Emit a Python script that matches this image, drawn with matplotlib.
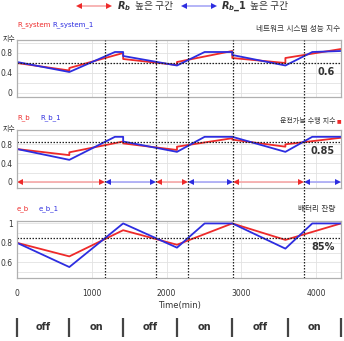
import matplotlib
matplotlib.use('Agg')
import matplotlib.pyplot as plt
import numpy as np

plt.rcParams['font.family'] = ['DejaVu Sans', 'Noto Sans CJK KR']

# ---------------- data ----------------
X_MAX = 4334
time_ticks = [0, 1000, 2000, 3000, 4000]

# panel 1 : network system performance index
t_sys_red = [0, 700, 700, 1420, 1420, 2140, 2140, 2880, 2880, 3590, 3590, 4334]
r_system = [0.60, 0.45, 0.50, 0.80, 0.68, 0.56, 0.62, 0.84, 0.70, 0.60, 0.70, 0.88]
t_sys_blue = [0, 0, 700, 1310, 1420, 1420, 2140, 2510, 2880, 2880, 3590, 3950, 4334]
r_system_1 = [0.0, 0.62, 0.42, 0.82, 0.82, 0.74, 0.55, 0.82, 0.82, 0.76, 0.55, 0.82, 0.84]

# panel 2 : operable performance index
t_b_red = [0, 700, 700, 1420, 1420, 2140, 2140, 2880, 2880, 3590, 3590, 4334]
r_b = [0.70, 0.57, 0.63, 0.86, 0.82, 0.68, 0.75, 0.93, 0.90, 0.75, 0.80, 0.94]
t_b_blue = [0, 0, 700, 1310, 1420, 1420, 2140, 2510, 2880, 3590, 3950, 4334]
r_b_1 = [0.0, 0.70, 0.47, 0.96, 0.96, 0.86, 0.64, 0.96, 0.96, 0.64, 0.96, 0.96]

# panel 3 : battery level
t_e_red = [0, 700, 1420, 2140, 2880, 3590, 4334]
e_b = [0.80, 0.66, 0.93, 0.78, 1.00, 0.83, 1.00]
t_e_blue = [0, 700, 1420, 2140, 2510, 2880, 3590, 3950, 4334]
e_b_1 = [0.80, 0.55, 1.00, 0.75, 1.00, 1.00, 0.74, 1.00, 1.00]

# regions where R_b / R_b_1 is higher (dashed boundaries)
region_bounds = [0, 1177, 1860, 2288, 2890, 3840, 4334]
region_owner = ['red', 'blue', 'red', 'blue', 'red', 'blue']

# on/off switching
switch_times = [0, 700, 1420, 2140, 2880, 3620, 4334]
switch_labels = ['off', 'on', 'off', 'on', 'off', 'on']

thresholds = [0.6, 0.85, 0.85]
threshold_labels = ['0.6', '0.85', '85%']

# ---------------- style ----------------
RED = '#ee2a2a'
BLUE = '#2d2de0'
LRED = '#f6a8a8'
LBLUE = '#a8a8f6'
COL = {'red': (RED, LRED), 'blue': (BLUE, LBLUE)}

W, H = 344, 341
fig = plt.figure(figsize=(W / 100, H / 100), dpi=100)


def fx(x):
    return x / W


def fy(y):
    return 1 - y / H


AX_L, AX_R = 17, 341


def make_ax(top, bottom, ylim, yticks, yticklabels, minor):
    ax = fig.add_axes([fx(AX_L), fy(bottom), fx(AX_R) - fx(AX_L), (bottom - top) / H])
    ax.set_xlim(0, X_MAX)
    ax.set_ylim(*ylim)
    ax.set_xticks(time_ticks)
    ax.set_yticks(yticks)
    ax.set_yticklabels(yticklabels, fontsize=5.5, color='#333333')
    ax.set_yticks(minor, minor=True)
    ax.tick_params(which='both', length=0, pad=3, labelbottom=False)
    ax.grid(True, which='both', color='#e2e2e2', lw=0.6)
    ax.set_axisbelow(True)
    for s in ax.spines.values():
        s.set_color('#b0b0b0')
        s.set_linewidth(0.9)
    return ax


ax1 = make_ax(40, 97, (-0.08, 1.06), [0, 0.4, 0.8], ['0', '0.4', '0.8'],
              [0.2, 0.6, 1.0])
ax2 = make_ax(130, 188, (-0.129, 1.105), [0, 0.4, 0.8], ['0', '0.4', '0.8'],
              [0.2, 0.6, 1.0])
ax3 = make_ax(221, 278, (0.437, 1.025), [0.6, 0.8, 1.0], ['0.6', '0.8', '1'],
              [0.5, 0.7, 0.9])

lw = 1.3
ax1.plot(t_sys_red, r_system, color=RED, lw=lw)
ax1.plot(t_sys_blue, r_system_1, color=BLUE, lw=lw)
ax2.plot(t_b_red, r_b, color=RED, lw=lw)
ax2.plot(t_b_blue, r_b_1, color=BLUE, lw=lw)
ax3.plot(t_e_red, e_b, color=RED, lw=lw)
ax3.plot(t_e_blue, e_b_1, color=BLUE, lw=lw)

for ax, thr, lab in zip([ax1, ax2, ax3], thresholds, threshold_labels):
    ax.axhline(thr, color='#222222', ls=(0, (1.2, 1.2)), lw=0.9)
    ax.annotate(lab, xy=(0.981, thr), xycoords=('axes fraction', 'data'),
                xytext=(0, -3), textcoords='offset points',
                ha='right', va='top', fontsize=7, fontweight='bold', color='#333333')

# region arrows in panel 2
gap = 45
for i, owner in enumerate(region_owner):
    c, lc = COL[owner]
    a, b = region_bounds[i] + gap, region_bounds[i + 1] - gap
    ax2.plot([a, b], [0.0, 0.0], color=lc, lw=1.2, solid_capstyle='butt')
    ax2.plot([a], [0.0], marker='<', color=c, ms=4.5, mew=0)
    ax2.plot([b], [0.0], marker='>', color=c, ms=4.5, mew=0)

# x tick labels below panel 3
ax3.tick_params(axis='x', labelbottom=True, labelsize=5.5, pad=8, colors='#333333')
ax3.set_xticklabels([str(v) for v in time_ticks])
ax3.set_xlabel('Time(min)', fontsize=6, labelpad=2, color='#333333')

# vertical dashed region boundaries across all panels
ax_ov = fig.add_axes([fx(AX_L), fy(278), fx(AX_R) - fx(AX_L), (278 - 40) / H])
ax_ov.set_xlim(0, X_MAX)
ax_ov.set_ylim(0, 1)
ax_ov.axis('off')
for t in region_bounds[1:-1]:
    ax_ov.axvline(t, color='#222222', ls=(0, (1.2, 1.2)), lw=0.9)

# on/off row
ax_sw = fig.add_axes([fx(AX_L), fy(337), fx(AX_R) - fx(AX_L), 19 / H])
ax_sw.set_xlim(0, X_MAX)
ax_sw.set_ylim(0, 1)
ax_sw.axis('off')
ax_sw.vlines(switch_times, 0, 1, color='#444444', lw=1.6, clip_on=False)
for i, lab in enumerate(switch_labels):
    ax_sw.text((switch_times[i] + switch_times[i + 1]) / 2, 0.55, lab,
               ha='center', va='center', fontsize=7, fontweight='bold', color='#333333')

# ---------------- text annotations (pixel layout) ----------------
def ftext(x, y, s, **kw):
    fig.text(fx(x), fy(y), s, **kw)


small = dict(fontsize=5, va='center')
ftext(17, 25, 'R_system', color=RED, **small)
ftext(52, 25, 'R_system_1', color=BLUE, **small)
ftext(340, 29, '네트워크 시스템 성능 지수', ha='right', color='#333333', fontsize=5.5, va='center')
ftext(3, 39, '지수', color='#333333', fontsize=5, va='center')

ftext(17, 118, 'R_b', color=RED, **small)
ftext(40, 118, 'R_b_1', color=BLUE, **small)
ftext(335, 120, '운전가능 수행 지수', ha='right', color='#333333', fontsize=5, va='center')
ftext(337, 121, '■', color=RED, fontsize=3.5, va='center')
ftext(3, 128, '지수', color='#333333', fontsize=5, va='center')

ftext(17, 209, 'e_b', color=RED, **small)
ftext(39, 209, 'e_b_1', color=BLUE, **small)
ftext(335, 208, '배터리 잔량', ha='right', color='#333333', fontsize=5.5, va='center')

# top legend
ax_fig = fig.add_axes([0, 0, 1, 1])
ax_fig.set_xlim(0, W)
ax_fig.set_ylim(H, 0)
ax_fig.axis('off')
ax_fig.set_zorder(-1)
for (x0, x1), owner in zip([(79, 109), (184, 214)], ['red', 'blue']):
    c, lc = COL[owner]
    ax_fig.plot([x0, x1], [6, 6], color=lc, lw=1.2)
    ax_fig.plot([x0], [6], marker='<', color=c, ms=4.5, mew=0)
    ax_fig.plot([x1], [6], marker='>', color=c, ms=4.5, mew=0)
ftext(117, 6.5, r'$\mathbfit{R_b}$', fontsize=7, va='center', color='#333333')
ftext(135, 6.5, '높은 구간', fontsize=7, va='center', color='#333333',
      family=['Noto Sans CJK KR', 'DejaVu Sans'])
ftext(221, 6.5, r'$\mathbfit{R_b}\mathbf{\_1}$', fontsize=7, va='center', color='#333333')
ftext(250, 6.5, '높은 구간', fontsize=7, va='center', color='#333333',
      family=['Noto Sans CJK KR', 'DejaVu Sans'])

fig.savefig('out.png', dpi=100)
